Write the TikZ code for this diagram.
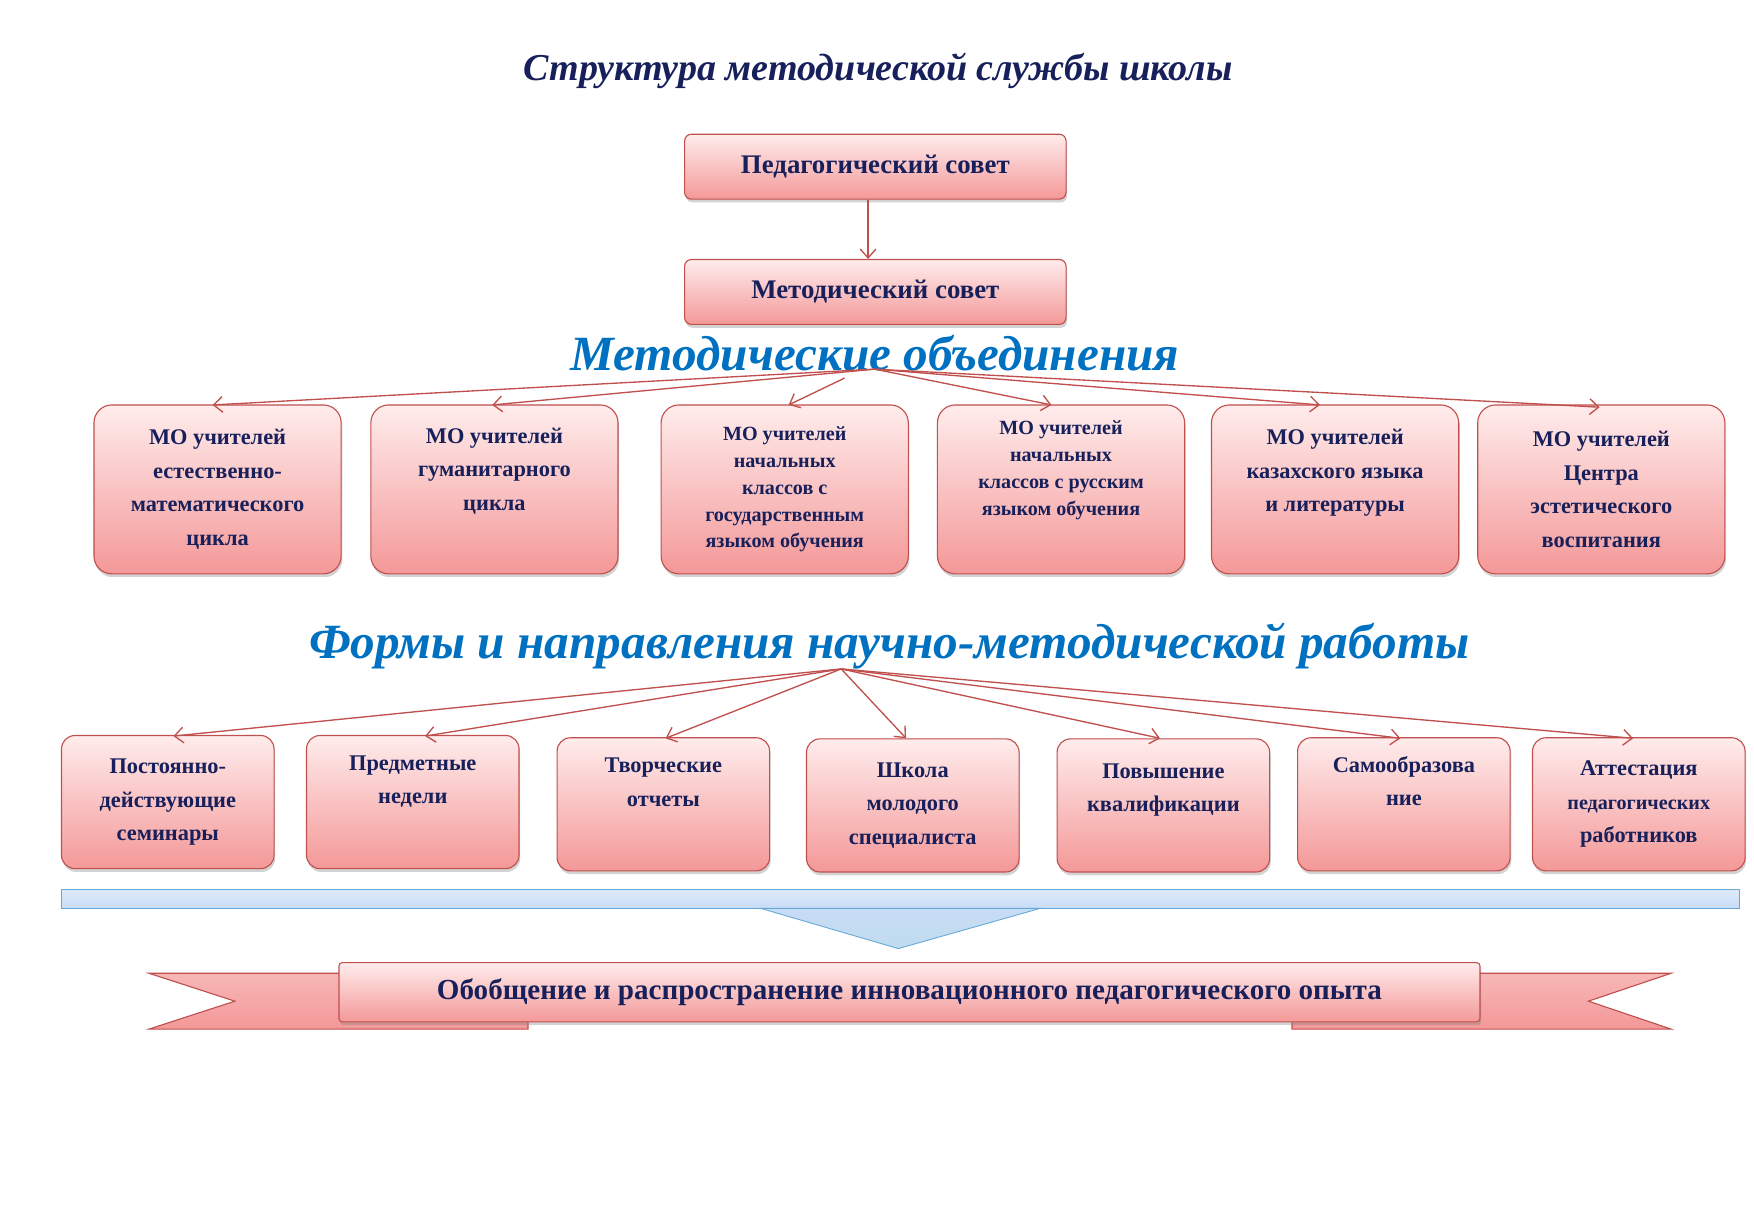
\documentclass[tikz,border=0pt]{standalone}
\usepackage{fontspec}
\setmainfont{Liberation Serif}
\usetikzlibrary{positioning,shadows,arrows.meta}
\definecolor{boxline}{RGB}{192,80,77}
\definecolor{boxtop}{RGB}{255,236,236}
\definecolor{boxbot}{RGB}{244,152,152}
\definecolor{navy}{RGB}{23,32,90}
\definecolor{headblue}{RGB}{0,112,192}
\definecolor{barblue}{RGB}{200,220,245}
\tikzset{
  pinkbox/.style={draw=boxline, line width=1pt, rounded corners=4pt, top color=boxtop, bottom color=boxbot,
    drop shadow={shadow xshift=1pt, shadow yshift=-3pt, opacity=0.35}, text=navy, font=\bfseries\fontsize{20}{30}\selectfont, align=center},
  mobox/.style={pinkbox, rounded corners=16pt, minimum width=221pt, minimum height=151pt, inner sep=2pt},
  formbox/.style={pinkbox, rounded corners=12pt, minimum width=190pt, minimum height=119pt, inner sep=2pt},
  heading/.style={text=headblue, font=\bfseries\itshape\fontsize{44}{50}\selectfont},
  link/.style={draw=boxline, line width=1.2pt, -{Straight Barb[length=8pt,width=14pt]}},
  tail/.style={draw=boxline, line width=1pt, top color=boxbot!70, bottom color=boxbot},
}
\begin{document}
\begin{tikzpicture}[x=1pt,y=-1pt]
\useasboundingbox (0,0) rectangle (1568,1100);

% title and councils
\node (title) at (785,63) [text=navy, font=\bfseries\itshape\fontsize{34}{40}\selectfont] {Структура методической службы школы};
\node (ped) at (782.5,149) [pinkbox, rounded corners=6pt, minimum width=341pt, minimum height=58pt, font=\bfseries\fontsize{24}{28}\selectfont] {Педагогический совет};
\node (met) at (782.5,261) [pinkbox, rounded corners=6pt, minimum width=341pt, minimum height=58pt, font=\bfseries\fontsize{24}{28}\selectfont] {Методический совет};
\draw [link] (ped.south -| 776,0) -- (met.north -| 776,0);

% methodical associations
\node (mohead) at (782,316) [heading] {Методические объединения};
\coordinate (mohub) at (782,330);
\node (mo1) at (194.5,437.5) [mobox] {МО учителей\\естественно-\\математического\\цикла};
\node (mo2) at (442,437.5) [mobox] {МО учителей\\гуманитарного\\цикла\\[6pt]};
\node (mo3) at (701.5,437.5) [mobox, font=\bfseries\fontsize{18}{24}\selectfont] {МО учителей\\начальных\\классов с\\государственным\\языком обучения};
\node (mo4) at (948.5,437.5) [mobox, font=\bfseries\fontsize{18}{24}\selectfont] {МО учителей\\начальных\\классов с русским\\языком обучения\\[14pt]};
\node (mo5) at (1193.5,437.5) [mobox] {МО учителей\\казахского языка\\и литературы\\[4pt]};
\node (mo6) at (1431.5,437.5) [mobox] {МО учителей\\Центра\\эстетического\\воспитания};
\draw [link] (mohub) -- (190,362);
\draw [link] (mohub) -- (440,362);
\draw [link] (755,338) -- (705,362);
\draw [link] (mohub) -- (940,362);
\draw [link] (mohub) -- (1180,362);
\draw [link] (mohub) -- (1430,364);

% forms of work
\node (fhead) at (795,578) [heading] {Формы и направления научно-методической работы};
\coordinate (fhub) at (752,598);
\node (f1) at (150,717) [formbox] {Постоянно-\\действующие\\семинары};
\node (f2) at (369,717) [formbox] {Предметные\\недели\\[10pt]};
\node (f3) at (593,719) [formbox] {Творческие\\отчеты\\[10pt]};
\node (f4) at (816,720) [formbox] {Школа\\молодого\\специалиста};
\node (f5) at (1040,720) [formbox] {Повышение\\квалификации\\[2pt]};
\node (f6) at (1255,719) [formbox] {Самообразова\\ние\\[12pt]};
\node (f7) at (1465,719) [formbox] {Аттестация\\{\fontsize{18}{30}\selectfont педагогических}\\работников};
\draw [link] (fhub) -- (155,658);
\draw [link] (fhub) -- (380,658);
\draw [link] (fhub) -- (595,660);
\draw [link] (fhub) -- (810,660);
\draw [link] (fhub) -- (1037,660);
\draw [link] (fhub) -- (1252,660);
\draw [link] (fhub) -- (1460,660);

% bar with arrow
\draw [draw=headblue!60, top color=barblue!60, bottom color=barblue, line width=0.8pt] (55,795) rectangle (1555,812);
\draw [draw=headblue!60, top color=barblue, bottom color=headblue!25, line width=0.8pt] (680,812) -- (930,812) -- (803,848) -- cycle;

% ribbon
\draw [tail] (133,870) -- (472,870) -- (472,920) -- (133,920) -- (210,895) -- cycle;
\draw [tail] (1494,870) -- (1155,870) -- (1155,920) -- (1494,920) -- (1420,895) -- cycle;
\node (gen) at (813,887) [pinkbox, rounded corners=3pt, minimum width=1020pt, minimum height=53pt, font=\bfseries\fontsize{26}{30}\selectfont] {Обобщение и распространение инновационного педагогического опыта};
\end{tikzpicture}
\end{document}
